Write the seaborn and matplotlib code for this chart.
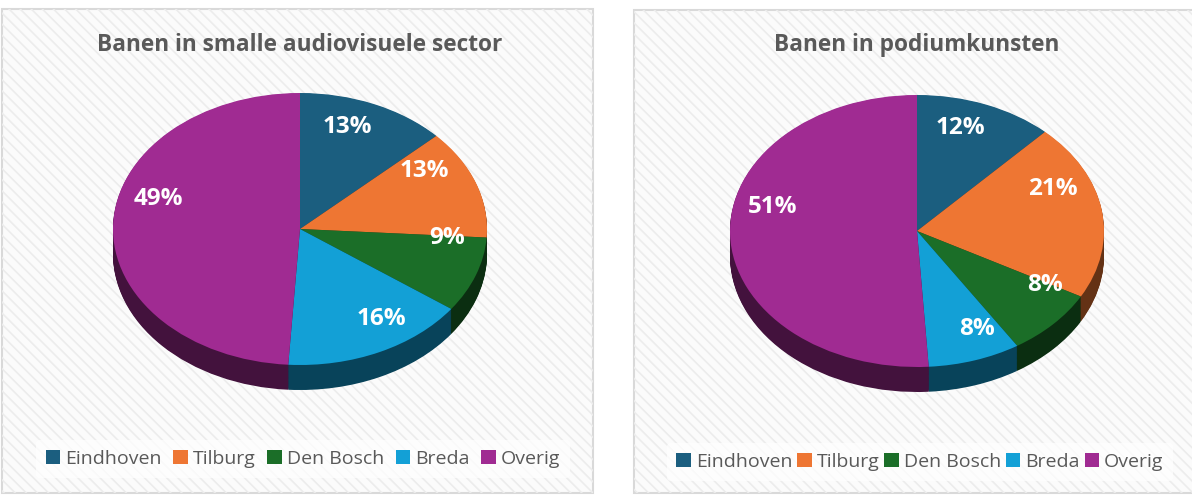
import matplotlib
matplotlib.use("Agg")
import matplotlib.pyplot as plt
from matplotlib.patches import Rectangle, Patch
import numpy as np
import seaborn as sns

# data
categories = ['Eindhoven', 'Tilburg', 'Den Bosch', 'Breda', 'Overig']
av_sector = [13, 13, 9, 16, 49]
podium = [12, 21, 8, 8, 51]
titles = ['Banen in smalle audiovisuele sector', 'Banen in podiumkunsten']

sns.set_theme(style='white')
plt.rcParams['font.family'] = ['Open Sans', 'DejaVu Sans']
plt.rcParams['hatch.color'] = '#ececec'
plt.rcParams['hatch.linewidth'] = 1.2

palette = sns.color_palette(['#1b5e7f', '#ee7633', '#1b6e28', '#13a0d6', '#a02b92'])
side_palette = [tuple(np.array(c) * 0.42) for c in palette]

W, H = 1192, 496
fig = plt.figure(figsize=(W / 100, H / 100), dpi=100)
fig.patch.set_facecolor('white')


def fx(px):
    return px / W


def fy(py):
    return 1 - py / H


def panel(x0, y0, x1, y1):
    # hatched card background
    r = Rectangle((fx(x0), fy(y1)), fx(x1 - x0), (y1 - y0) / H, transform=fig.transFigure,
                  facecolor='#fbfbfb', edgecolor='#d9d9d9', linewidth=1.5, zorder=-2)
    fig.patches.append(r)
    h = Rectangle((fx(x0), fy(y1)), fx(x1 - x0), (y1 - y0) / H, transform=fig.transFigure,
                  facecolor='none', edgecolor='#ececec', linewidth=0, hatch='\\\\\\', zorder=-1)
    fig.patches.append(h)


panel(2, 9, 593, 493)
panel(634, 10, 1195, 493)

rx, ry = 187, 136   # pixel radii of the pie top
depth = 25 / ry     # side thickness in y data units


def draw_pie(cx, cy, values, title, legend_y, colspace):
    xl, yl = (-1.2, 1.2), (-1.35, 1.15)
    w = (xl[1] - xl[0]) * rx
    h = (yl[1] - yl[0]) * ry
    ax = fig.add_axes([fx(cx + xl[0] * rx), (H - cy + yl[0] * ry) / H, w / W, h / H])
    ax.patch.set_alpha(0)
    # side of the 3D pie: stacked darker layers
    for k in np.linspace(depth, 0.005, 30):
        ax.pie(values, colors=side_palette, startangle=90, counterclock=False,
               center=(0, -k), wedgeprops=dict(linewidth=0))
    wedges, _, autotexts = ax.pie(values, colors=palette, startangle=90, counterclock=False,
                                  autopct=lambda p: f'{p:.0f}%', pctdistance=0.74,
                                  wedgeprops=dict(linewidth=0),
                                  textprops=dict(color='white', fontsize=17.5, fontweight='bold'))
    # excel-like label placement: pulled a bit towards the top of the tilted pie
    for wd, t in zip(wedges, autotexts):
        th = np.deg2rad((wd.theta1 + wd.theta2) / 2)
        v = np.array([np.cos(th), np.sin(th) + 0.26])
        v = v / np.linalg.norm(v) * 0.79
        t.set_position(v)
    ax.set_aspect('auto')
    ax.set_xlim(*xl)
    ax.set_ylim(*yl)
    ax.axis('off')
    fig.text(fx(cx), fy(45), title, ha='center', va='center', fontsize=16.3,
             fontweight='bold', color='#595959')
    handles = [Patch(facecolor=c, edgecolor='none') for c in palette]
    leg = fig.legend(handles, categories, loc='center', bbox_to_anchor=(fx(cx + 3), fy(legend_y)),
                     ncol=5, frameon=True, fontsize=14, handlelength=0.75, handleheight=0.75,
                     handletextpad=0.25, columnspacing=colspace, borderpad=0.5)
    leg.get_frame().set_facecolor('white')
    leg.get_frame().set_alpha(0.7)
    leg.get_frame().set_edgecolor('none')
    for t in leg.get_texts():
        t.set_color('#595959')
    return ax


draw_pie(300, 229, av_sector, titles[0], 459, 0.6)
draw_pie(917, 231, podium, titles[1], 462, 0.25)

fig.savefig('out.png', dpi=100)
